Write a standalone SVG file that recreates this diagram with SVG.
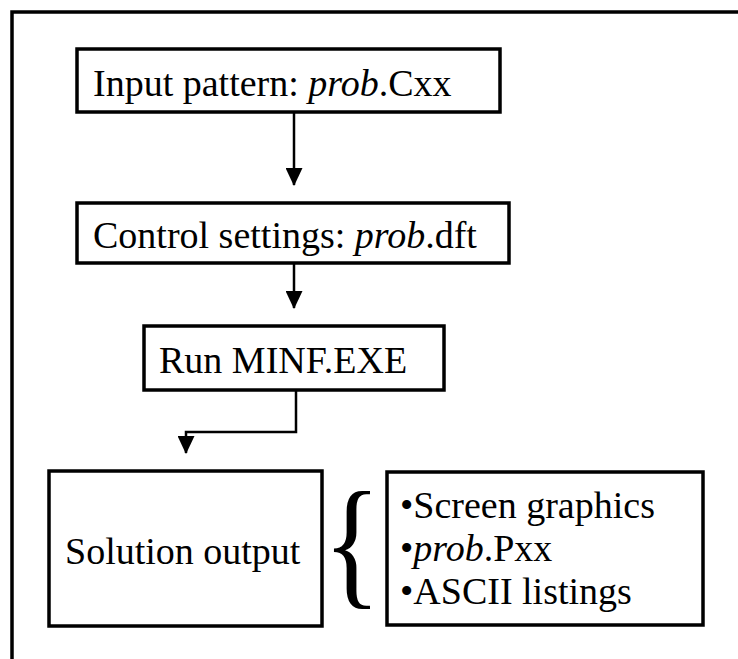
<svg xmlns="http://www.w3.org/2000/svg" width="738" height="659" viewBox="0 0 738 659">
<defs>
<style>
.box{fill:#fff;stroke:#000;stroke-width:3.5}
.t{font-family:"Liberation Serif","Times New Roman",serif;font-size:38px;fill:#000}
.i{font-style:italic}
.c{fill:none;stroke:#000;stroke-width:2.5}
</style>
<marker id="ah" markerUnits="userSpaceOnUse" markerWidth="17" markerHeight="18" refX="8.5" refY="17" orient="0" viewBox="0 0 17 18">
<path d="M0,0 L17,0 L8.5,18 Z" fill="#000"/>
</marker>
</defs>
<rect width="738" height="659" fill="#fff"/>
<path d="M12,670 V12 H750" fill="none" stroke="#000" stroke-width="3.5"/>
<g id="connectors">
<path class="c" d="M294,112 V185" marker-end="url(#ah)"/>
<path class="c" d="M294,263 V308" marker-end="url(#ah)"/>
<path class="c" d="M296,390 V432 H186 V453" marker-end="url(#ah)"/>
</g>
<g id="input">
<rect class="box" x="77" y="49" width="423" height="63"/>
<text class="t" x="93" y="96">Input pattern: <tspan class="i">prob</tspan>.Cxx</text>
</g>
<g id="control">
<rect class="box" x="77" y="203" width="432" height="60"/>
<text class="t" x="93" y="248">Control settings: <tspan class="i">prob</tspan>.dft</text>
</g>
<g id="run">
<rect class="box" x="144" y="326" width="300" height="64"/>
<text class="t" x="159" y="373">Run MINF.EXE</text>
</g>
<g id="solution">
<rect class="box" x="49" y="471" width="273" height="155"/>
<text class="t" x="65" y="564">Solution output</text>
</g>
<g id="brace">
<text class="t" transform="translate(323,590) scale(0.85,1)" style="font-size:142px">{</text>
</g>
<g id="outputs">
<rect class="box" x="387" y="472" width="316" height="153"/>
<text class="t" x="400" y="518">•Screen graphics</text>
<text class="t" x="400" y="561"><tspan>•</tspan><tspan class="i">prob</tspan>.Pxx</text>
<text class="t" x="400" y="604">•ASCII listings</text>
</g>
</svg>
